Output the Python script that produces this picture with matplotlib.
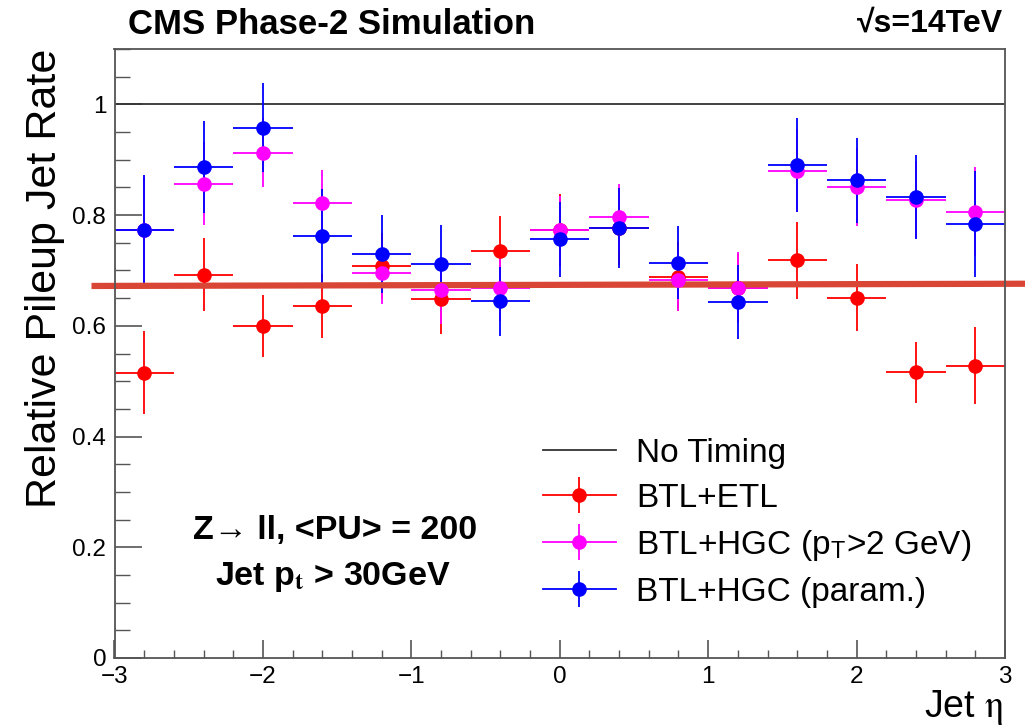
import numpy as np
import matplotlib.pyplot as plt
from matplotlib.lines import Line2D
from matplotlib.legend_handler import HandlerTuple

plt.rcParams['font.family'] = ['Liberation Sans', 'DejaVu Sans']
plt.rcParams['mathtext.fontset'] = 'stix'

eta = [-2.8, -2.4, -2.0, -1.6, -1.2, -0.8, -0.4, 0.0, 0.4, 0.8, 1.2, 1.6, 2.0, 2.4, 2.8]
half_bin = 0.2

etl = [0.515, 0.692, 0.600, 0.636, 0.708, 0.648, 0.736, 0.773, 0.777, 0.689, 0.668, 0.718, 0.651, 0.516, 0.528]
etl_err = [0.075, 0.066, 0.056, 0.058, 0.060, 0.062, 0.063, 0.065, 0.068, 0.062, 0.062, 0.070, 0.061, 0.055, 0.070]

hgc_pt = [0.773, 0.857, 0.913, 0.822, 0.695, 0.664, 0.669, 0.773, 0.796, 0.683, 0.669, 0.880, 0.851, 0.828, 0.806]
hgc_pt_err = [0.095, 0.075, 0.062, 0.060, 0.056, 0.060, 0.060, 0.062, 0.060, 0.056, 0.064, 0.075, 0.070, 0.070, 0.080]

hgc_par = [0.773, 0.887, 0.958, 0.762, 0.730, 0.712, 0.644, 0.756, 0.777, 0.714, 0.643, 0.890, 0.863, 0.832, 0.784]
hgc_par_err = [0.100, 0.083, 0.080, 0.085, 0.071, 0.070, 0.062, 0.068, 0.072, 0.066, 0.066, 0.085, 0.077, 0.076, 0.096]

x_ticks = [-3, -2, -1, 0, 1, 2, 3]
y_ticks = [0, 0.2, 0.4, 0.6, 0.8, 1.0]
y_labels = ['0', '0.2', '0.4', '0.6', '0.8', '1']

fig = plt.figure(figsize=(10.25, 7.27), dpi=100)
ax = fig.add_axes([114.5 / 1025, 1 - 658 / 727, (1005 - 114.5) / 1025, (658 - 49) / 727])

ax.axhline(1.0, color='#333333', lw=1.3)

series = [
    (etl, etl_err, '#ff0000', 'BTL+ETL'),
    (hgc_pt, hgc_pt_err, '#ff00ff', 'BTL+HGC (p$_{\\mathregular{T}}$>2 GeV)'),
    (hgc_par, hgc_par_err, '#0000ff', 'BTL+HGC (param.)'),
]
handles = [Line2D([], [], color='#333333', lw=1.3)]
labels = ['No Timing']
for vals, errs, col, lab in series:
    ax.errorbar(eta, vals, yerr=errs, xerr=half_bin, fmt='o', color=col,
                ms=9.5, elinewidth=1.3, capsize=0)
    h1 = Line2D([], [], color=col, lw=1.3, marker='o', ms=9.5)
    h2 = Line2D([], [], color=col, lw=0, marker='|', ms=26, mew=1.3)
    handles.append((h1, h2))
    labels.append(lab)

ax.set_xlim(-3, 3)
ax.set_ylim(0, 1.1)
ax.set_xticks(x_ticks)
ax.set_xticklabels([str(v).replace('-', '\u2212') for v in x_ticks])
ax.set_xticks(np.arange(-3, 3.01, 0.2), minor=True)
ax.set_yticks(y_ticks)
ax.set_yticklabels(y_labels)
ax.set_yticks(np.arange(0, 1.101, 0.05), minor=True)
ax.tick_params(which='both', direction='in', labelsize=17.5, color='#555555')
ax.tick_params(axis='y', which='major', length=19.5, width=1.2, pad=6)
ax.tick_params(axis='y', which='minor', length=11, width=1.0)
ax.tick_params(axis='x', which='major', length=13, width=1.2, pad=6)
ax.tick_params(axis='x', which='minor', length=6, width=1.0)
for s in ax.spines.values():
    s.set_color('#555555')
    s.set_linewidth(1.3)

ax.set_ylabel('Relative Pileup Jet Rate', fontsize=31, loc='top', labelpad=5)
fig.text(1003 / 1025, 1 - 717 / 727, 'Jet $\\mathrm{\\eta}$', fontsize=27, ha='right', va='baseline')

fig.text(128 / 1025, 1 - 24 / 727, 'CMS Phase-2 Simulation', fontsize=25, fontweight='bold',
         va='center', ha='left')
fig.text(1003 / 1025, 1 - 24 / 727, '\u221as=14TeV', fontsize=23, fontweight='bold',
         family=['Liberation Sans', 'DejaVu Sans'], va='center', ha='right')

ax.text(-1.515, 0.231, 'Z\u2192 ll, <PU> = 200', fontsize=24.5, fontweight='bold', ha='center', va='center',
        family=['Liberation Sans', 'DejaVu Sans'])
ax.text(-1.53, 0.146, 'Jet p$_{\\mathbf{t}}$ > 30GeV', fontsize=24.5, fontweight='bold', ha='center', va='center')

ax.legend(handles, labels, handler_map={tuple: HandlerTuple(ndivide=1)},
          loc='upper left', bbox_to_anchor=(0.481, 0.362), frameon=False, fontsize=24,
          handlelength=2.2, labelspacing=0.42, handletextpad=0.6, borderaxespad=0, borderpad=0)

# hand-drawn annotation line across the plot
line_x = [-3.155, 3.135]
line_y = [0.672, 0.676]
ax.plot(line_x, line_y, color='#da4636', lw=4.5, clip_on=False, solid_capstyle='butt')

fig.savefig('out.png', dpi=100)
